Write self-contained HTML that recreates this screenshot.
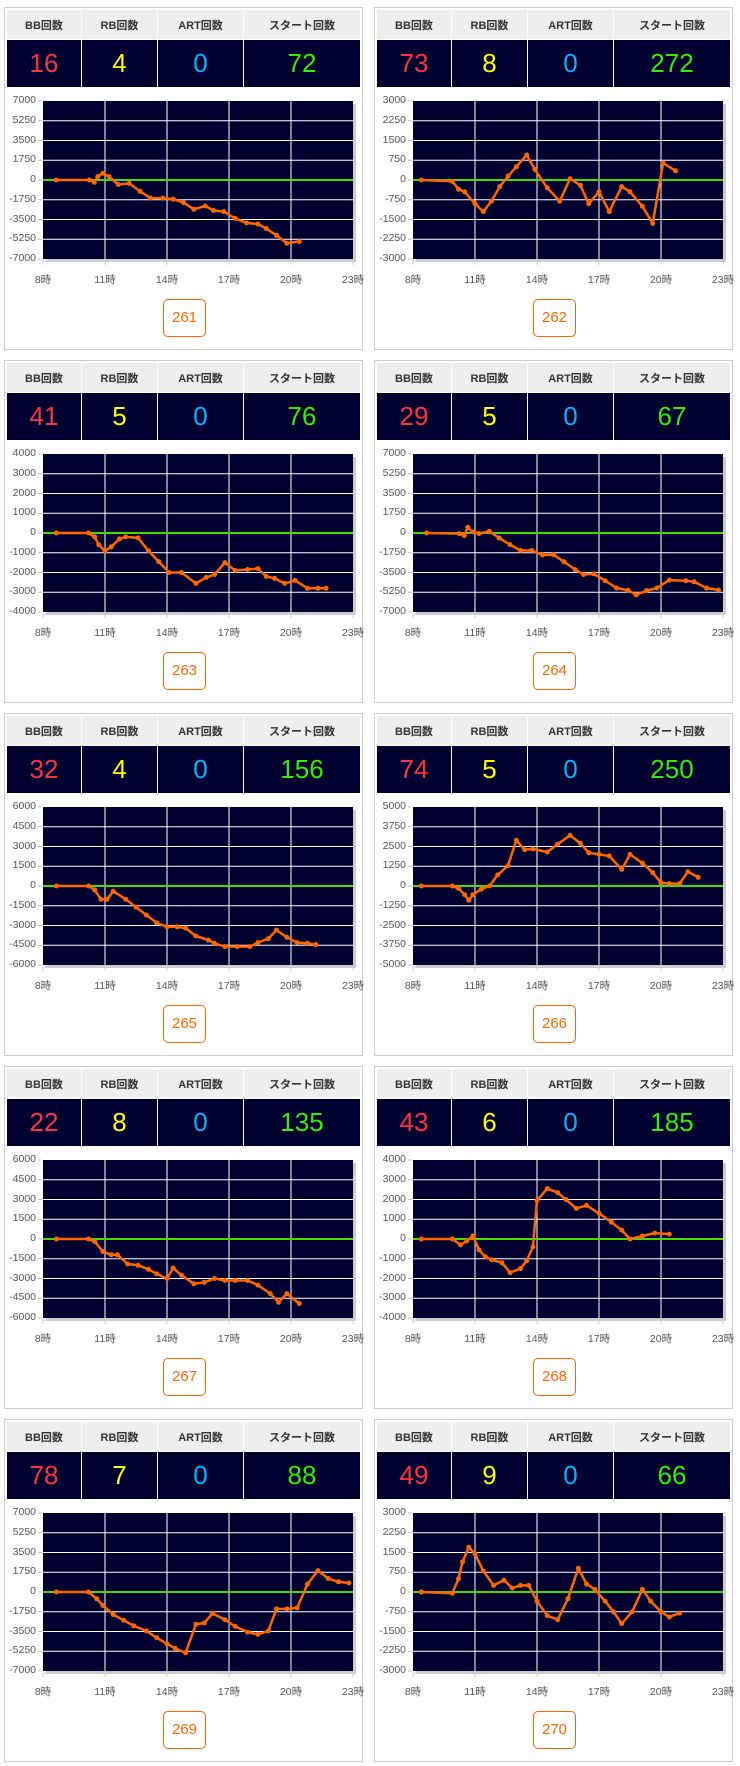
<!DOCTYPE html>
<html><head><meta charset="utf-8">
<style>
body{margin:0;width:740px;height:1766px;background:#fff;position:relative;font-family:"Liberation Sans","Noto Sans CJK JP",sans-serif;overflow:hidden}
.p{position:absolute;width:357px;height:341px;border:1px solid #ccc;background:#fff}
.t{position:absolute;left:1px;top:1px;width:355px;border-collapse:separate;border-spacing:1px 1px;table-layout:fixed}
.t td{text-align:center;padding:0}
.h td{background:#eee;height:29px;font-size:11px;font-weight:bold;color:#333}
.v td{background:#000030;height:47px;font-size:26px}
.r{color:#ff3340}.y{color:#ffff00}.c{color:#00b4ff}.g{color:#33ee00}
.yl{position:absolute;left:0;top:83px;width:31px;text-align:right;font-size:10.5px;color:#555}
.yl span{display:block;height:19.75px;line-height:19.75px}
.xl{position:absolute;left:18px;top:264px;display:flex;font-size:10.5px;color:#555}
.xl span{width:40px;text-align:center;margin-right:22px}
.b{position:absolute;left:158px;top:291px;width:41px;height:36px;border:1px solid #f60;border-radius:5px;color:#f60;font-size:15px;text-align:center;line-height:36px}
svg{position:absolute;left:0;top:0}
</style></head><body>

<div class="p" style="left:4px;top:7px"><table class="t"><tr class="h"><td style="width:74px">BB回数</td><td style="width:75px">RB回数</td><td style="width:85px">ART回数</td><td>スタート回数</td></tr><tr class="v"><td class="r">16</td><td class="y">4</td><td class="c">0</td><td class="g">72</td></tr></table>
<svg id="s0" width="358" height="262"></svg>
<div class="yl"><span>7000</span><span>5250</span><span>3500</span><span>1750</span><span>0</span><span>-1750</span><span>-3500</span><span>-5250</span><span>-7000</span></div>
<div class="xl"><span>8時</span><span>11時</span><span>14時</span><span>17時</span><span>20時</span><span>23時</span></div><div class="b">261</div></div>

<div class="p" style="left:374px;top:7px"><table class="t"><tr class="h"><td style="width:74px">BB回数</td><td style="width:75px">RB回数</td><td style="width:85px">ART回数</td><td>スタート回数</td></tr><tr class="v"><td class="r">73</td><td class="y">8</td><td class="c">0</td><td class="g">272</td></tr></table>
<svg id="s1" width="358" height="262"></svg>
<div class="yl"><span>3000</span><span>2250</span><span>1500</span><span>750</span><span>0</span><span>-750</span><span>-1500</span><span>-2250</span><span>-3000</span></div>
<div class="xl"><span>8時</span><span>11時</span><span>14時</span><span>17時</span><span>20時</span><span>23時</span></div><div class="b">262</div></div>

<div class="p" style="left:4px;top:360px"><table class="t"><tr class="h"><td style="width:74px">BB回数</td><td style="width:75px">RB回数</td><td style="width:85px">ART回数</td><td>スタート回数</td></tr><tr class="v"><td class="r">41</td><td class="y">5</td><td class="c">0</td><td class="g">76</td></tr></table>
<svg id="s2" width="358" height="262"></svg>
<div class="yl"><span>4000</span><span>3000</span><span>2000</span><span>1000</span><span>0</span><span>-1000</span><span>-2000</span><span>-3000</span><span>-4000</span></div>
<div class="xl"><span>8時</span><span>11時</span><span>14時</span><span>17時</span><span>20時</span><span>23時</span></div><div class="b">263</div></div>

<div class="p" style="left:374px;top:360px"><table class="t"><tr class="h"><td style="width:74px">BB回数</td><td style="width:75px">RB回数</td><td style="width:85px">ART回数</td><td>スタート回数</td></tr><tr class="v"><td class="r">29</td><td class="y">5</td><td class="c">0</td><td class="g">67</td></tr></table>
<svg id="s3" width="358" height="262"></svg>
<div class="yl"><span>7000</span><span>5250</span><span>3500</span><span>1750</span><span>0</span><span>-1750</span><span>-3500</span><span>-5250</span><span>-7000</span></div>
<div class="xl"><span>8時</span><span>11時</span><span>14時</span><span>17時</span><span>20時</span><span>23時</span></div><div class="b">264</div></div>

<div class="p" style="left:4px;top:713px"><table class="t"><tr class="h"><td style="width:74px">BB回数</td><td style="width:75px">RB回数</td><td style="width:85px">ART回数</td><td>スタート回数</td></tr><tr class="v"><td class="r">32</td><td class="y">4</td><td class="c">0</td><td class="g">156</td></tr></table>
<svg id="s4" width="358" height="262"></svg>
<div class="yl"><span>6000</span><span>4500</span><span>3000</span><span>1500</span><span>0</span><span>-1500</span><span>-3000</span><span>-4500</span><span>-6000</span></div>
<div class="xl"><span>8時</span><span>11時</span><span>14時</span><span>17時</span><span>20時</span><span>23時</span></div><div class="b">265</div></div>

<div class="p" style="left:374px;top:713px"><table class="t"><tr class="h"><td style="width:74px">BB回数</td><td style="width:75px">RB回数</td><td style="width:85px">ART回数</td><td>スタート回数</td></tr><tr class="v"><td class="r">74</td><td class="y">5</td><td class="c">0</td><td class="g">250</td></tr></table>
<svg id="s5" width="358" height="262"></svg>
<div class="yl"><span>5000</span><span>3750</span><span>2500</span><span>1250</span><span>0</span><span>-1250</span><span>-2500</span><span>-3750</span><span>-5000</span></div>
<div class="xl"><span>8時</span><span>11時</span><span>14時</span><span>17時</span><span>20時</span><span>23時</span></div><div class="b">266</div></div>

<div class="p" style="left:4px;top:1066px"><table class="t"><tr class="h"><td style="width:74px">BB回数</td><td style="width:75px">RB回数</td><td style="width:85px">ART回数</td><td>スタート回数</td></tr><tr class="v"><td class="r">22</td><td class="y">8</td><td class="c">0</td><td class="g">135</td></tr></table>
<svg id="s6" width="358" height="262"></svg>
<div class="yl"><span>6000</span><span>4500</span><span>3000</span><span>1500</span><span>0</span><span>-1500</span><span>-3000</span><span>-4500</span><span>-6000</span></div>
<div class="xl"><span>8時</span><span>11時</span><span>14時</span><span>17時</span><span>20時</span><span>23時</span></div><div class="b">267</div></div>

<div class="p" style="left:374px;top:1066px"><table class="t"><tr class="h"><td style="width:74px">BB回数</td><td style="width:75px">RB回数</td><td style="width:85px">ART回数</td><td>スタート回数</td></tr><tr class="v"><td class="r">43</td><td class="y">6</td><td class="c">0</td><td class="g">185</td></tr></table>
<svg id="s7" width="358" height="262"></svg>
<div class="yl"><span>4000</span><span>3000</span><span>2000</span><span>1000</span><span>0</span><span>-1000</span><span>-2000</span><span>-3000</span><span>-4000</span></div>
<div class="xl"><span>8時</span><span>11時</span><span>14時</span><span>17時</span><span>20時</span><span>23時</span></div><div class="b">268</div></div>

<div class="p" style="left:4px;top:1419px"><table class="t"><tr class="h"><td style="width:74px">BB回数</td><td style="width:75px">RB回数</td><td style="width:85px">ART回数</td><td>スタート回数</td></tr><tr class="v"><td class="r">78</td><td class="y">7</td><td class="c">0</td><td class="g">88</td></tr></table>
<svg id="s8" width="358" height="262"></svg>
<div class="yl"><span>7000</span><span>5250</span><span>3500</span><span>1750</span><span>0</span><span>-1750</span><span>-3500</span><span>-5250</span><span>-7000</span></div>
<div class="xl"><span>8時</span><span>11時</span><span>14時</span><span>17時</span><span>20時</span><span>23時</span></div><div class="b">269</div></div>

<div class="p" style="left:374px;top:1419px"><table class="t"><tr class="h"><td style="width:74px">BB回数</td><td style="width:75px">RB回数</td><td style="width:85px">ART回数</td><td>スタート回数</td></tr><tr class="v"><td class="r">49</td><td class="y">9</td><td class="c">0</td><td class="g">66</td></tr></table>
<svg id="s9" width="358" height="262"></svg>
<div class="yl"><span>3000</span><span>2250</span><span>1500</span><span>750</span><span>0</span><span>-750</span><span>-1500</span><span>-2250</span><span>-3000</span></div>
<div class="xl"><span>8時</span><span>11時</span><span>14時</span><span>17時</span><span>20時</span><span>23時</span></div><div class="b">270</div></div>

<script>
var D=[
[7000,[[8.63,0],[10.24,0],[10.48,-200],[10.65,300],[10.9,600],[11.2,300],[11.64,-400],[12.17,-300],[12.7,-1000],[13.2,-1600],[13.8,-1600],[14.3,-1700],[14.8,-2000],[15.3,-2600],[15.85,-2300],[16.25,-2700],[16.75,-2800],[17.3,-3400],[17.85,-3800],[18.4,-3900],[18.8,-4300],[19.3,-4900],[19.8,-5600],[20.4,-5450]]],
[3000,[[8.4,0],[9.9,-50],[10.2,-350],[10.5,-450],[11,-900],[11.4,-1200],[11.8,-800],[12.2,-250],[12.6,150],[13,500],[13.5,950],[13.9,400],[14.5,-300],[15.1,-800],[15.6,50],[16.1,-200],[16.5,-900],[17,-450],[17.5,-1200],[18.1,-250],[18.5,-450],[19.1,-1000],[19.6,-1650],[20.1,650],[20.7,350]]],
[4000,[[8.65,0],[10.2,0],[10.5,-200],[10.7,-600],[11,-900],[11.3,-700],[11.7,-300],[12,-200],[12.6,-250],[13.1,-900],[13.6,-1450],[14.1,-2000],[14.7,-2000],[15.4,-2550],[15.9,-2250],[16.3,-2100],[16.8,-1500],[17.3,-1900],[17.9,-1850],[18.4,-1800],[18.8,-2200],[19.2,-2300],[19.7,-2550],[20.2,-2400],[20.8,-2800],[21.3,-2800],[21.7,-2800]]],
[7000,[[8.66,0],[10.24,-50],[10.48,-230],[10.65,500],[10.9,90],[11.2,-50],[11.69,150],[12.17,-440],[12.69,-1020],[13.2,-1550],[13.75,-1550],[14.27,-1950],[14.8,-1920],[15.3,-2540],[15.85,-3240],[16.25,-3680],[16.75,-3620],[17.3,-4230],[17.85,-4870],[18.4,-5070],[18.8,-5480],[19.3,-5100],[19.8,-4870],[20.4,-4170],[21.2,-4230],[21.6,-4320],[22.2,-4870],[22.78,-5050]]],
[6000,[[8.65,0],[10.2,0],[10.5,-300],[10.8,-1000],[11.1,-1000],[11.4,-400],[12,-1000],[12.5,-1600],[13,-2200],[13.5,-2800],[14,-3100],[14.5,-3100],[14.9,-3200],[15.4,-3800],[16,-4100],[16.3,-4350],[16.8,-4600],[17.4,-4600],[18,-4600],[18.4,-4300],[18.9,-4000],[19.3,-3350],[19.8,-3900],[20.3,-4300],[20.8,-4350],[21.2,-4450]]],
[5000,[[8.4,0],[9.9,0],[10.2,-150],[10.5,-550],[10.7,-900],[10.9,-550],[11.3,-200],[11.7,0],[12.1,700],[12.6,1300],[13,2900],[13.4,2300],[13.8,2350],[14.5,2150],[15,2650],[15.6,3200],[16.1,2700],[16.5,2100],[17,2000],[17.5,1900],[18.1,1050],[18.5,2000],[19.1,1450],[19.6,850],[20,200],[20.4,150],[20.9,150],[21.3,900],[21.8,550]]],
[6000,[[8.65,0],[10.2,0],[10.5,-200],[10.9,-950],[11.3,-1200],[11.6,-1200],[12.1,-1900],[12.6,-2000],[13.1,-2300],[13.5,-2650],[14,-3000],[14.3,-2200],[14.7,-2750],[15.3,-3400],[15.8,-3300],[16.3,-3000],[16.8,-3150],[17.3,-3150],[17.9,-3150],[18.4,-3500],[19,-4150],[19.4,-4800],[19.8,-4150],[20.4,-4900]]],
[4000,[[8.4,0],[9.9,0],[10.3,-300],[10.6,-100],[10.9,150],[11.2,-550],[11.5,-900],[11.8,-1050],[12.3,-1200],[12.7,-1700],[13.2,-1500],[13.5,-1100],[13.8,-400],[14,1950],[14.5,2550],[15,2350],[15.4,2000],[15.9,1550],[16.4,1700],[17,1300],[17.6,850],[18.1,450],[18.5,0],[19.1,150],[19.7,300],[20.4,250]]],
[7000,[[8.65,0],[10.2,0],[10.6,-600],[10.9,-1200],[11.4,-2000],[11.9,-2500],[12.4,-3000],[13,-3450],[13.5,-4050],[14,-4600],[14.4,-5000],[14.9,-5400],[15.4,-2850],[15.8,-2750],[16.2,-1900],[16.8,-2450],[17.3,-3050],[17.9,-3550],[18.4,-3750],[18.9,-3450],[19.3,-1500],[19.8,-1500],[20.3,-1400],[20.8,700],[21.3,1900],[21.8,1200],[22.3,900],[22.8,800]]],
[3000,[[8.4,0],[9.9,-50],[10.2,500],[10.4,1150],[10.7,1700],[11,1450],[11.4,800],[11.9,250],[12.4,450],[12.8,150],[13.2,250],[13.6,250],[14,-350],[14.5,-900],[15,-1050],[15.5,-250],[16,900],[16.4,300],[16.8,100],[17.3,-350],[17.7,-750],[18.1,-1200],[18.6,-750],[19.1,100],[19.5,-350],[20,-750],[20.4,-950],[20.9,-800]]]
];
D.forEach(function(d,i){
 var R=d[0],s='',L=38,T=93,W=310,H=158;
 s+='<rect x="'+(L+3)+'" y="'+(T+3)+'" width="'+W+'" height="'+H+'" fill="#ccc"/>';
 s+='<rect x="'+L+'" y="'+T+'" width="'+W+'" height="'+H+'" fill="#000030"/>';
 for(var k=1;k<8;k++){var y=T+H*k/8;s+='<line x1="'+L+'" x2="'+(L+W)+'" y1="'+y+'" y2="'+y+'" stroke="#fff" stroke-width="1"/>';}
 for(var k=1;k<5;k++){var x=L+W*k/5;s+='<line x1="'+x+'" x2="'+x+'" y1="'+T+'" y2="'+(T+H)+'" stroke="#fff" stroke-width="1"/>';}
 for(var k=0;k<=8;k++){var y=T+H*k/8;s+='<line x1="'+(L-5)+'" x2="'+(L-2)+'" y1="'+y+'" y2="'+y+'" stroke="#bbb"/>';}
 s+='<line x1="'+L+'" x2="'+(L+W)+'" y1="'+(T+H+2)+'" y2="'+(T+H+2)+'" stroke="#ccc"/>';
 for(var k=0;k<=5;k++){var x=L+W*k/5;s+='<line x1="'+x+'" x2="'+x+'" y1="'+(T+H+2)+'" y2="'+(T+H+6)+'" stroke="#ccc"/>';}
 s+='<line x1="'+L+'" x2="'+(L+W)+'" y1="'+(T+H/2)+'" y2="'+(T+H/2)+'" stroke="#44dd00" stroke-width="2"/>';
 var pts=d[1].map(function(p){return [(L+(p[0]-8)*W/15).toFixed(1),(T+(R-p[1])/(2*R)*H).toFixed(1)];});
 s+='<polyline fill="none" stroke="#ff6600" stroke-width="2.5" stroke-linejoin="round" points="'+pts.map(function(p){return p.join(',')}).join(' ')+'"/>';
 pts.forEach(function(p){s+='<circle cx="'+p[0]+'" cy="'+p[1]+'" r="2.5" fill="#ff6600"/>';});
 document.getElementById('s'+i).innerHTML=s;
});
</script>
</body></html>
